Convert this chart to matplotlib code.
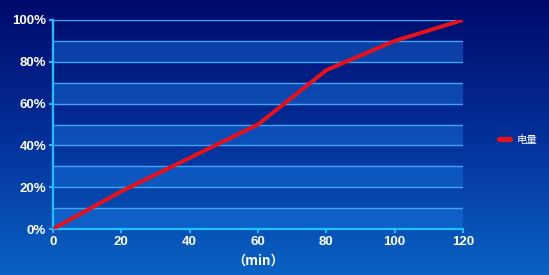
import numpy as np
import matplotlib
matplotlib.use("Agg")
import matplotlib.pyplot as plt
from matplotlib.colors import LinearSegmentedColormap
from matplotlib.lines import Line2D

plt.rcParams['font.family'] = ['Liberation Sans', 'Noto Sans CJK SC', 'DejaVu Sans']

time_min = [0, 20, 40, 60, 80, 100, 120]
charge_pct = [0, 18, 34, 50, 76, 90, 100]
x_ticks = [0, 20, 40, 60, 80, 100, 120]
y_ticks = [0, 20, 40, 60, 80, 100]
y_tick_labels = ['0%', '20%', '40%', '60%', '80%', '100%']
series_name = '电量'
x_label = '（min）'

W, H = 549, 275
fig = plt.figure(figsize=(W / 100, H / 100), dpi=100)

# background gradient
bg = fig.add_axes([0, 0, 1, 1], zorder=0)
cmap = LinearSegmentedColormap.from_list('bg', ['#000a6c', '#03309a', '#0a62c4'])
grad = np.linspace(0, 1, 256).reshape(-1, 1)
bg.imshow(grad, aspect='auto', cmap=cmap, extent=[0, 1, 0, 1], origin='upper')
bg.set_axis_off()

left, right, top, bottom = 53, 463, 20, 229
ax = fig.add_axes([left / W, 1 - bottom / H, (right - left) / W, (bottom - top) / H], zorder=1)
ax.patch.set_alpha(0)

# alternating bands
for lo in range(0, 100, 20):
    ax.axhspan(lo, lo + 10, color='#1a7ae4', alpha=0.42, lw=0, zorder=0)
# grid lines every 10%
for g in range(10, 101, 10):
    ax.axhline(g, color='#40a6f4', lw=1.0, zorder=1)

ax.plot(time_min, charge_pct, color='#e4121c', lw=2.9, solid_joinstyle='round',
        solid_capstyle='round', zorder=3)

ax.set_xlim(0, 120)
ax.set_ylim(0, 100)
ax.set_xticks(x_ticks)
ax.set_yticks(y_ticks)
ax.set_yticklabels(y_tick_labels)
for s in ['top', 'right']:
    ax.spines[s].set_visible(False)
for s in ['left', 'bottom']:
    ax.spines[s].set_color('#1ec0ff')
    ax.spines[s].set_linewidth(1.6)
ax.tick_params(axis='both', colors='#1ec0ff', length=3, width=1.4, direction='out',
               labelcolor='white', labelsize=9.5, pad=2)
for lab in ax.get_xticklabels() + ax.get_yticklabels():
    lab.set_fontweight('bold')
ax.set_xlabel(x_label, color='white', fontsize=9.5, fontweight='bold', labelpad=4,
              family=['Noto Sans CJK SC', 'DejaVu Sans'])

handle = Line2D([], [], color='#e4121c', lw=3.8, solid_capstyle='round')
leg = fig.legend([handle], [series_name], loc='center left', bbox_to_anchor=(490 / W, 1 - 140 / H),
                 frameon=False, handlelength=1.0, handletextpad=0.7,
                 labelcolor='white', prop={'family': ['Noto Sans CJK SC'], 'size': 7.5})

fig.savefig('out.png', dpi=100)
